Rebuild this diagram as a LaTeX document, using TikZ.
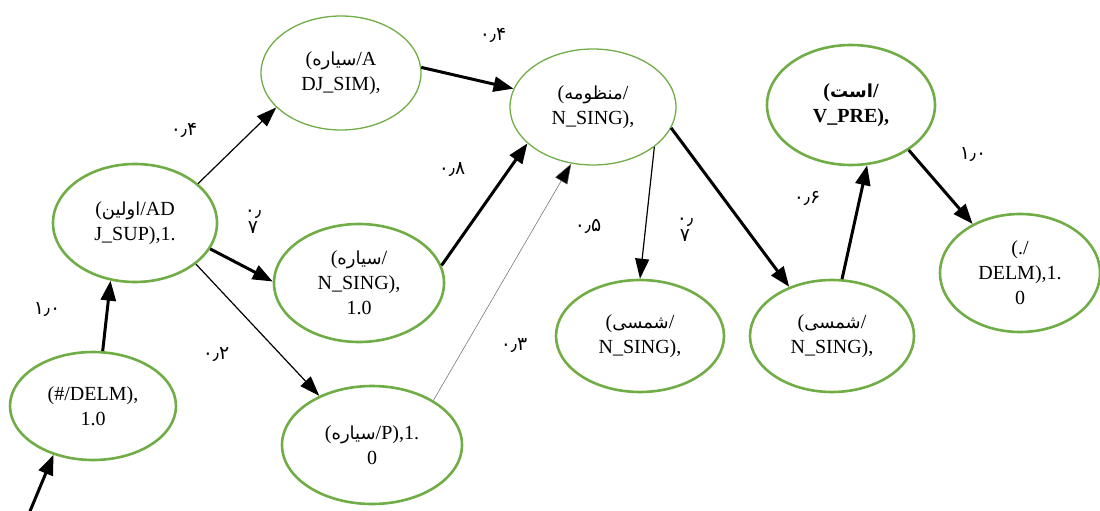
\documentclass[tikz,border=0pt]{standalone}
\usepackage{fontspec}
\setmainfont{Liberation Serif}
\newfontfamily\fa[Script=Arabic,Scale=0.9]{DejaVu Sans}
\TeXXeTstate=1
\usetikzlibrary{shapes.geometric,arrows.meta}
\definecolor{verde}{HTML}{70AD47}
\newcommand{\fw}[1]{{\fa\beginR #1\endR}}

\tikzstyle{tok}= [ellipse,draw=verde,line width=2.6pt,inner sep=0pt,align=center,font=\fontsize{20}{25}\selectfont]
\tikzstyle{tokfino}= [tok,line width=1.3pt]
\tikzstyle{gruesa}= [black,line width=3pt,-{Triangle[length=20pt,width=15pt]}]
\tikzstyle{fina}= [black,line width=1.2pt,-{Triangle[length=20pt,width=14pt]}]
\tikzstyle{tenue}= [black!60,line width=0.5pt,-{Triangle[length=20pt,width=14pt,fill=black]}]
\tikzstyle{prob}= [align=center,inner sep=0pt,font=\fontsize{21}{17}\selectfont\fa]

\begin{document}
\begin{tikzpicture}[x=1pt,y=-1pt]
		\useasboundingbox (0,0) rectangle (1100,511);

		\node (n1) at (93,406) [tok,minimum width=166pt,minimum height=108pt] {(\#/DELM),\\1.0};
		\node (n2) at (135,223) [tok,minimum width=164pt,minimum height=118pt] {(\fw{اولین}/AD\\J\_SUP),1.};
		\node (n3) at (341,73) [tokfino,minimum width=160pt,minimum height=114pt] {(\fw{سیاره}/A\\DJ\_SIM),};
		\node (n4) at (359,283) [tok,minimum width=170pt,minimum height=118pt] {(\fw{سیاره}/\\N\_SING),\\1.0};
		\node (n5) at (372,445) [tok,minimum width=180pt,minimum height=118pt] {(\fw{سیاره}/P),1.\\0};
		\node (n6) at (593,107) [tokfino,minimum width=166pt,minimum height=116pt] {(\fw{منظومه}/\\N\_SING),};
		\node (n7) at (851,105) [tok,minimum width=168pt,minimum height=120pt] {\bfseries(\fw{است}/\\\bfseries V\_PRE),};
		\node (n8) at (640,336) [tok,minimum width=168pt,minimum height=112pt] {(\fw{شمسی}/\\N\_SING),};
		\node (n9) at (832,336) [tok,minimum width=164pt,minimum height=112pt] {(\fw{شمسی}/\\N\_SING),};
		\node (n10) at (1020,273) [tok,minimum width=160pt,minimum height=118pt] {(./\\DELM),1.\\0};

		\coordinate (ini) at (28,516);

		\node (p12) at (47,310) [prob] {۱٫۰};
		\node (p23) at (184,130) [prob] {۰٫۴};
		\node (p24) at (253,222) [prob] {۰٫\\۷};
		\node (p25) at (216,355) [prob] {۰٫۲};
		\node (p36) at (493,35) [prob] {۰٫۴};
		\node (p46) at (452,170) [prob] {۰٫۸};
		\node (p56) at (514,346) [prob] {۰٫۳};
		\node (p68) at (588,226) [prob] {۰٫۵};
		\node (p69) at (685,230) [prob] {۰٫\\۷};
		\node (p97) at (807,198) [prob] {۰٫۶};
		\node (p710) at (973,155) [prob] {۱٫۰};

		\path[gruesa] (ini) edge[] node {} (n1.231);
		\path[gruesa] (n1.80) edge[] node {} (n2.247);
		\path[fina] (n2.32) edge[] node {} (n3.208);
		\path[gruesa] (n2.341) edge[] node {} (n4.179);
		\path[fina] (n2.326) edge[] node {} (n5.137);
		\path[gruesa] (n3.4) edge[] node {} (n6.167);
		\path[gruesa] (n4.12) edge[] node {} (n6.209);
		\path[tenue] (n5.36) edge[] node {} (n6.249);
		\path[fina] (n6.327) edge[] node {} (n8.90);
		\path[gruesa] (n6.345) edge[] node {} (n9.131);
		\path[gruesa] (n9.80) edge[] node {} (n7.285);
		\path[gruesa] (n7.322) edge[] node {} (n10.134);
\end{tikzpicture}
\end{document}
